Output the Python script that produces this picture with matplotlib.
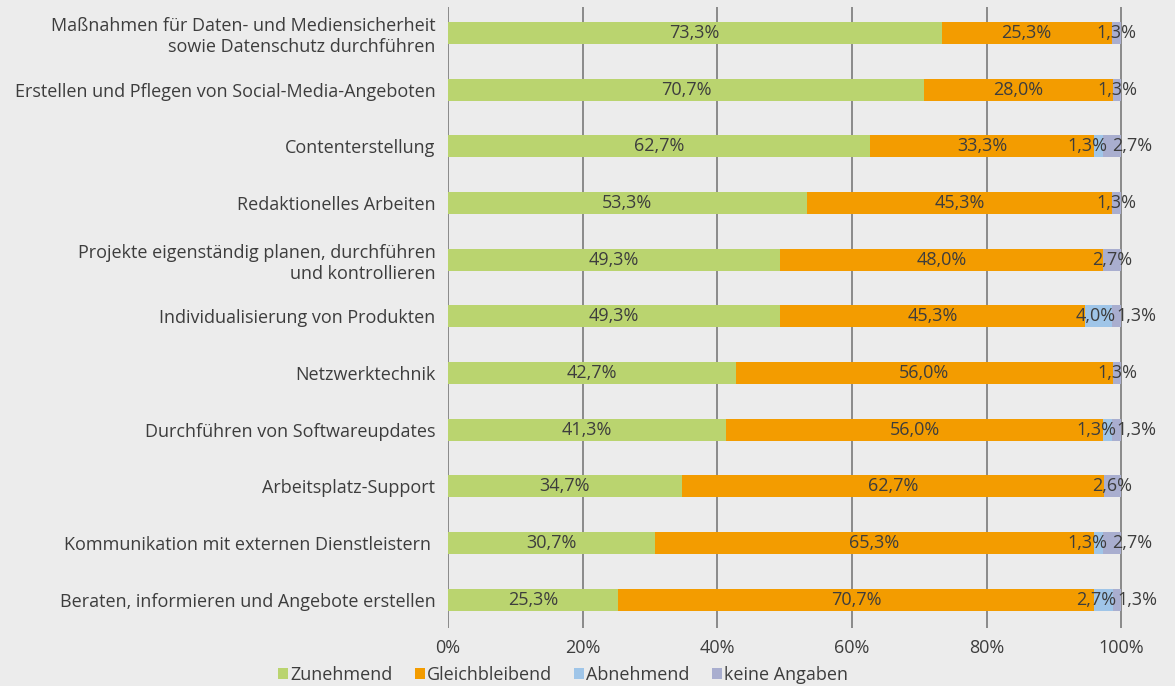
import matplotlib
matplotlib.use("Agg")
import matplotlib.pyplot as plt
import numpy as np

categories = [
    "Maßnahmen für Daten- und Mediensicherheit\nsowie Datenschutz durchführen",
    "Erstellen und Pflegen von Social-Media-Angeboten",
    "Contenterstellung",
    "Redaktionelles Arbeiten",
    "Projekte eigenständig planen, durchführen\nund kontrollieren",
    "Individualisierung von Produkten",
    "Netzwerktechnik",
    "Durchführen von Softwareupdates",
    "Arbeitsplatz-Support",
    "Kommunikation mit externen Dienstleistern ",
    "Beraten, informieren und Angebote erstellen",
]
series_names = ["Zunehmend", "Gleichbleibend", "Abnehmend", "keine Angaben"]
zunehmend = [73.3, 70.7, 62.7, 53.3, 49.3, 49.3, 42.7, 41.3, 34.7, 30.7, 25.3]
gleichbleibend = [25.3, 28.0, 33.3, 45.3, 48.0, 45.3, 56.0, 56.0, 62.7, 65.3, 70.7]
abnehmend = [0.0, 0.0, 1.3, 0.0, 0.0, 4.0, 0.0, 1.3, 0.0, 1.3, 2.7]
keine_angaben = [1.3, 1.3, 2.7, 1.3, 2.7, 1.3, 1.3, 1.3, 2.6, 2.7, 1.3]
x_ticks = [0, 20, 40, 60, 80, 100]

colors = ["#bad46f", "#f39c00", "#9fc5e8", "#a9aecf"]
bg = "#ececec"
text_color = "#3d3d3d"

plt.rcParams["font.family"] = ["Open Sans", "DejaVu Sans"]
plt.rcParams["font.size"] = 13


def fmt(v):
    return f"{v:.1f}%".replace(".", ",")


fig = plt.figure(figsize=(11.75, 6.86), dpi=100, facecolor=bg)
ax = fig.add_axes([448 / 1175, 1 - 628 / 686, 676 / 1175, 621 / 686])
ax.set_facecolor(bg)

series = [zunehmend, gleichbleibend, abnehmend, keine_angaben]
y = np.arange(len(categories))
left = np.zeros(len(categories))
for k, (name, vals, col) in enumerate(zip(series_names, series, colors)):
    vals = np.array(vals)
    ax.barh(y, vals, left=left, height=0.39, color=col, label=name, zorder=3)
    for yi, (l, v) in enumerate(zip(left, vals)):
        if v <= 0:
            continue
        # two small segments side by side: push the labels apart
        both_small = abnehmend[yi] > 0 and keine_angaben[yi] > 0
        if k == 2 and both_small:
            x, ha = l + v + 0.6, "right"
        elif k == 3 and both_small:
            x, ha = l + v / 2, "left"
        else:
            x, ha = l + v / 2, "center"
        ax.text(x, yi, fmt(v), ha=ha, va="center", color=text_color, zorder=4)
    left += vals

ax.set_xlim(0, 100.4)
ax.set_ylim(len(categories) - 0.5, -0.46)
ax.set_xticks(x_ticks)
ax.set_xticklabels([f"{t}%" for t in x_ticks])
ax.set_yticks(y)
ax.set_yticklabels(categories, linespacing=1.2)
ax.tick_params(axis="both", length=0, colors=text_color)
ax.tick_params(axis="y", pad=9)
ax.tick_params(axis="x", pad=8)
for s in ax.spines.values():
    s.set_visible(False)
ax.grid(axis="x", color="#8a8a8a", linewidth=1.4, zorder=1)
ax.grid(axis="y", visible=False)

fig.legend(loc="center", bbox_to_anchor=(563 / 1175, 1 - 675 / 686), ncol=4, frameon=False,
           handlelength=0.55, handleheight=0.55, handletextpad=0.1, columnspacing=1.25,
           labelcolor=text_color)

fig.savefig("out.png", dpi=100, facecolor=bg)
